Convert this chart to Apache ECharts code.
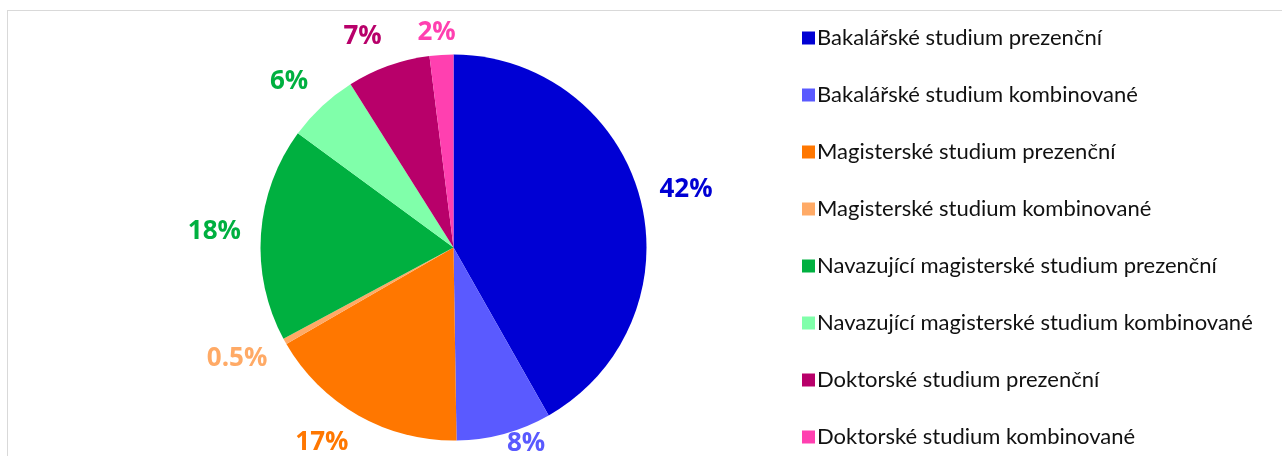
<!DOCTYPE html>
<html>
<head>
<meta charset="utf-8">
<script src="https://cdn.jsdelivr.net/npm/echarts@6/dist/echarts.min.js"></script>
<style>
  html, body { margin: 0; padding: 0; background: #fff; }
  #frame {
    position: absolute; left: 7px; top: 10px; width: 1300px; height: 500px;
    border: 1px solid #d9d9d9; box-sizing: border-box;
  }
  #main { position: absolute; left: 0; top: 0; width: 1282px; height: 456px; }
</style>
</head>
<body>
<div id="frame"></div>
<div id="main"></div>
<script>
var categories = [
  'Bakalářské studium prezenční',
  'Bakalářské studium kombinované',
  'Magisterské studium prezenční',
  'Magisterské studium kombinované',
  'Navazující magisterské studium prezenční',
  'Navazující magisterské studium kombinované',
  'Doktorské studium prezenční',
  'Doktorské studium kombinované'
]
var shares = [42, 8, 17, 0.5, 18, 6, 7, 2]
var shareLabels = ['42%', '8%', '17%', '0.5%', '18%', '6%', '7%', '2%']
var colors = ['#0000d4', '#5a5aff', '#ff7700', '#ffaa66', '#00b040', '#80ffaa', '#b8006a', '#ff40b0']
var labelColors = ['#0000d4', '#5a5aff', '#ff7700', '#ffaa66', '#00b040', '#00b040', '#b8006a', '#ff40b0']

var cx = 453.5, cy = 247.5, r = 193
var total = shares.reduce(function (a, b) { return a + b }, 0)

// middle angle of each slice, clockwise from 12 o'clock
var midAngles = []
var acc = 0
shares.forEach(function (v) {
  midAngles.push((acc + v / 2) / total * Math.PI * 2)
  acc += v
})

function clamp (v, lo, hi) { return Math.max(lo, Math.min(hi, v)) }

var chart = echarts.init(document.getElementById('main'))
var data = categories.map(function (name, i) {
  return {
    name: name,
    value: shares[i],
    itemStyle: { color: colors[i] },
    label: { color: labelColors[i], formatter: shareLabels[i] }
  }
})
var option = {
  animation: false,
  legend: {
    orient: 'vertical',
    left: 797,
    top: 22,
    height: 600,
    itemWidth: 13,
    itemHeight: 13,
    itemGap: 35,
    icon: 'rect',
    textStyle: {
      fontFamily: 'Lato',
      fontSize: 22,
      color: '#111',
      padding: [0, 0, 0, -3]
    },
    data: categories
  },
  series: [{
    type: 'pie',
    center: [cx, cy],
    radius: r,
    startAngle: 90,
    clockwise: true,
    avoidLabelOverlap: false,
    label: {
      show: true,
      position: 'outside',
      fontFamily: 'Open Sans',
      fontWeight: 'bold',
      fontSize: 26
    },
    labelLine: { show: false, length: 14, length2: 0 },
    // outside-end labels: the label corner facing the pie sits on the slice's mid ray
    labelLayout: function (params) {
      var a = midAngles[params.dataIndex]
      var dx = Math.sin(a), dy = -Math.cos(a)
      var w = params.labelRect.width, h = 20
      var px = cx + dx * (r + 20), py = cy + dy * (r + 20)
      var x = px + clamp(dx * 3, -1, 1) * w / 2
      var y = py + clamp(dy * 1.5, -1, 1) * h / 2
      y = clamp(y, 33, 444)
      // keep the label off the pie when it got pushed back inside the frame
      var ny = Math.abs(y - cy) - h / 2
      var rr = r + 1
      if (ny < rr) {
        var minDx = Math.sqrt(rr * rr - ny * ny) + w / 2
        if (Math.abs(x - cx) < minDx) x = cx + (dx >= 0 ? 1 : -1) * minDx
      }
      return { x: x, y: y, align: 'center', verticalAlign: 'middle' }
    },
    itemStyle: { borderWidth: 0 },
    data: data
  }]
}
chart.setOption(option)
</script>
</body>
</html>
